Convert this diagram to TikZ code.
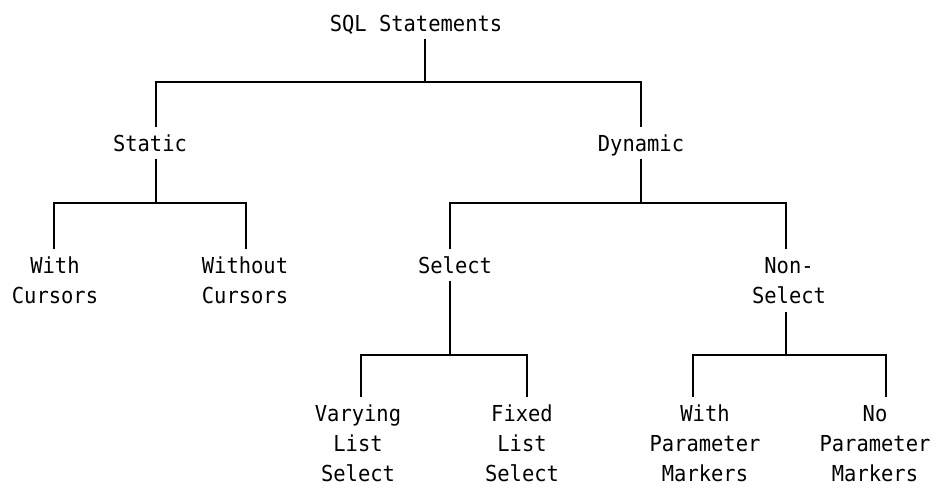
\documentclass[tikz,border=0pt]{standalone}
\usepackage{fontspec}
\setmonofont[FakeStretch=0.93]{DejaVu Sans Mono}
\begin{document}
\begin{tikzpicture}[x=1pt,y=-1pt,
  label/.style={font=\ttfamily\fontsize{22}{30}\selectfont, align=center,
    anchor=north, inner xsep=0pt, inner ysep=8pt},
  oneline/.style={label, text height=16pt, text depth=0pt},
  link/.style={line width=1.6pt}]
\useasboundingbox (0,0) rectangle (947,487);

% statement categories
\node[oneline] (root)    at (416,7)   {SQL Statements};
\node[oneline] (static)  at (150,127) {Static};
\node[oneline] (dynamic) at (641,127) {Dynamic};
\node[label] (withcur)    at (55,249)  {With\\Cursors};
\node[label] (withoutcur) at (245,249) {Without\\Cursors};
\node[oneline] (select)  at (455,249) {Select};
\node[label] (nonselect)  at (789,249) {Non-\\Select};
\node[label] (varying)    at (358,397) {Varying\\List\\Select};
\node[label] (fixed)      at (522,397) {Fixed\\List\\Select};
\node[label] (withpar)    at (705,397) {With\\Parameter\\Markers};
\node[label] (nopar)      at (875,397) {No\\Parameter\\Markers};

% branch points
\coordinate (jroot)    at (425,82);
\coordinate (jstatic)  at (156,203);
\coordinate (jdynamic) at (641,203);
\coordinate (jselect)  at (450,355);
\coordinate (jnonsel)  at (786,355);

% leg positions of the leaves
\coordinate (lwith)    at (54,0);
\coordinate (lwithout) at (246,0);
\coordinate (lvar)     at (361,0);
\coordinate (lfix)     at (527,0);
\coordinate (lwpar)    at (693,0);
\coordinate (lnpar)    at (886,0);

% tree connectors
\draw[link] (root.south -| jroot) -- (jroot);
\draw[link] (static.north -| jstatic) |- (jroot) -| (dynamic.north -| jdynamic);

\draw[link] (static.south -| jstatic) -- (jstatic);
\draw[link] (withcur.north -| lwith) |- (jstatic) -| (withoutcur.north -| lwithout);

\draw[link] (dynamic.south -| jdynamic) -- (jdynamic);
\draw[link] (select.north -| jselect) |- (jdynamic) -| (nonselect.north -| jnonsel);

\draw[link] (select.south -| jselect) -- (jselect);
\draw[link] (varying.north -| lvar) |- (jselect) -| (fixed.north -| lfix);

\draw[link] (nonselect.south -| jnonsel) -- (jnonsel);
\draw[link] (withpar.north -| lwpar) |- (jnonsel) -| (nopar.north -| lnpar);
\end{tikzpicture}
\end{document}
